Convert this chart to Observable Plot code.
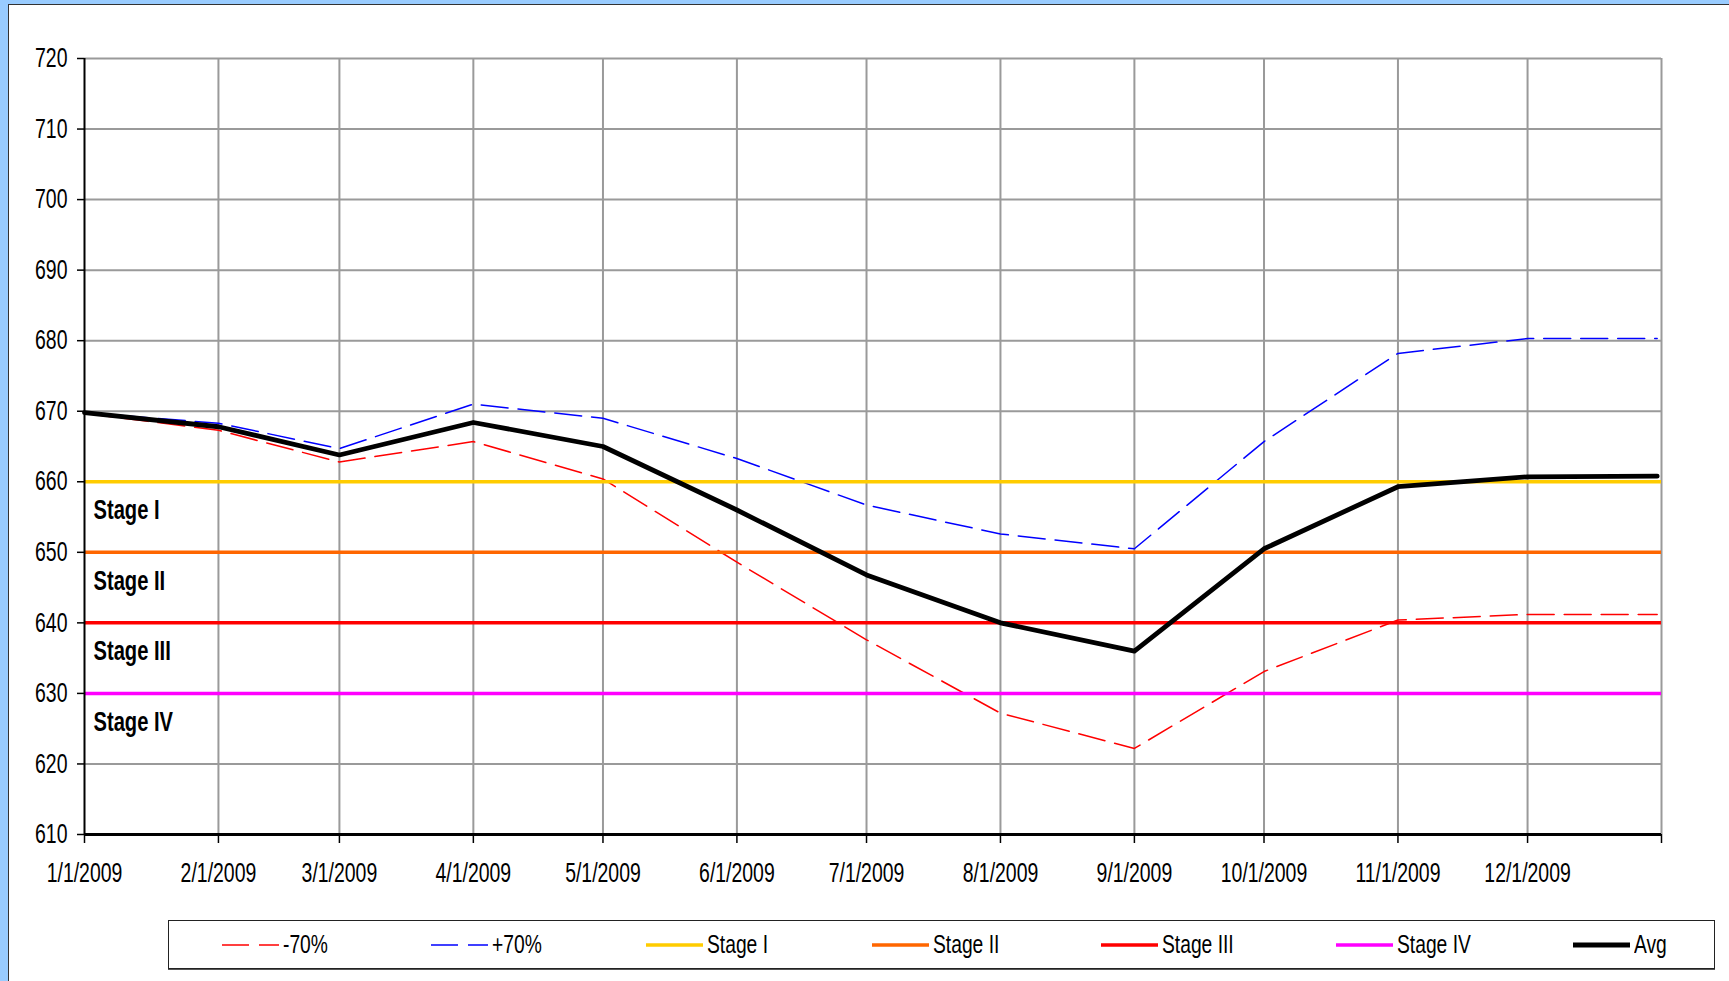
<!DOCTYPE html>
<html>
<head>
<meta charset="utf-8">
<script src="https://cdn.jsdelivr.net/npm/d3@7"></script>
<script src="https://cdn.jsdelivr.net/npm/@observablehq/plot@0.6"></script>
<style>
  html, body { margin: 0; padding: 0; }
  body { width: 1729px; height: 981px; background: #99CCFF; position: relative; overflow: hidden;
         font-family: "Liberation Sans", Arial, sans-serif; }
  #frame { position: absolute; left: 8px; top: 4px; right: -4px; bottom: -4px; background: #fff;
           border-left: 1.5px solid #333; border-top: 1.5px solid #333; }
  #chart { position: absolute; left: 0; top: 0; }
  #legend { position: absolute; left: 168px; top: 920px; width: 1545px; height: 47px;
            border: 1.5px solid #222; box-shadow: 0 1px 0 #555; background: #fff; }
  .item { position: absolute; top: 0; height: 47px; display: flex; align-items: center;
          font-size: 26px; color: #000; white-space: nowrap; }
  .item svg { display: block; margin-right: 4px; }
  .item span { display: inline-block; transform: scaleX(0.74); transform-origin: left center; }
</style>
</head>
<body>
<div id="frame"></div>
<div id="chart"></div>
<div id="legend"></div>
<script>
// ---- data ----
const dates = ["2009-01-01","2009-02-01","2009-03-01","2009-04-01","2009-05-01","2009-06-01",
               "2009-07-01","2009-08-01","2009-09-01","2009-10-01","2009-11-01","2009-12-01","2009-12-31"];
const avg     = [669.8, 667.8, 663.8, 668.4, 665.0, 656.0, 646.8, 640.0, 636.0, 650.5, 659.3, 660.7, 660.8];
const minus70 = [669.7, 667.3, 662.8, 665.7, 660.4, 648.6, 637.6, 627.2, 622.2, 633.1, 640.4, 641.2, 641.2];
const plus70  = [669.8, 668.3, 664.7, 671.0, 669.0, 663.3, 656.7, 652.6, 650.5, 665.7, 678.2, 680.3, 680.3];
const stageNames  = ["Stage I", "Stage II", "Stage III", "Stage IV"];
const stageLevels = [660, 650, 640, 630];
const yTicks = [610, 620, 630, 640, 650, 660, 670, 680, 690, 700, 710, 720];
const xTickDates = ["2009-01-01","2009-02-01","2009-03-01","2009-04-01","2009-05-01","2009-06-01",
                    "2009-07-01","2009-08-01","2009-09-01","2009-10-01","2009-11-01","2009-12-01","2010-01-01"];
const xTickLabels = ["1/1/2009","2/1/2009","3/1/2009","4/1/2009","5/1/2009","6/1/2009",
                     "7/1/2009","8/1/2009","9/1/2009","10/1/2009","11/1/2009","12/1/2009",""];
const legendNames = ["-70%", "+70%", "Stage I", "Stage II", "Stage III", "Stage IV", "Avg"];

// ---- styles ----
const stageColors = ["#FFCC00", "#FF6600", "#FF0000", "#FF00FF"];
const legendLeft = [53, 262, 477, 703, 932, 1167, 1404];
const legendStyle = [
  {stroke: "#FF0000", w: 1.5, dash: "27,10"},
  {stroke: "#0000FF", w: 1.5, dash: "27,10"},
  {stroke: stageColors[0], w: 3.5},
  {stroke: stageColors[1], w: 3.5},
  {stroke: stageColors[2], w: 3.5},
  {stroke: stageColors[3], w: 3.5},
  {stroke: "#000000", w: 5}
];
const font = '"Liberation Sans", Arial, sans-serif';

const parse = s => new Date(s + "T00:00:00Z");
const rows = dates.map((d, i) => ({date: parse(d), avg: avg[i], lo: minus70[i], hi: plus70[i]}));
const tickDates = xTickDates.map(parse);
const labelOf = new Map(tickDates.map((d, i) => [d.getTime(), xTickLabels[i]]));
const x0 = tickDates[0];

const chart = Plot.plot({
  width: 1729,
  height: 900,
  marginLeft: 84,
  marginRight: 68,
  marginTop: 58,
  marginBottom: 66,
  style: {fontFamily: font, fontSize: "27px", background: "transparent", overflow: "visible", color: "#000"},
  x: {type: "utc", domain: [tickDates[0], tickDates[tickDates.length - 1]]},
  y: {domain: [610, 720]},
  marks: [
    Plot.ruleX(tickDates.slice(1), {stroke: "#9a9a9a", strokeWidth: 2, strokeOpacity: 1}),
    Plot.ruleY(yTicks.slice(1), {stroke: "#9a9a9a", strokeWidth: 2, strokeOpacity: 1}),
    Plot.line(rows, {x: "date", y: "lo", stroke: "#FF0000", strokeWidth: 1.5, strokeDasharray: "27,10"}),
    Plot.line(rows, {x: "date", y: "hi", stroke: "#0000FF", strokeWidth: 1.5, strokeDasharray: "27,10"}),
    ...stageLevels.map((v, i) => Plot.ruleY([v], {stroke: stageColors[i], strokeWidth: 3.5})),
    Plot.line(rows, {x: "date", y: "avg", stroke: "#000", strokeWidth: 4.8, strokeLinejoin: "round"}),
    Plot.text(stageNames, {x: () => x0, y: (d, i) => stageLevels[i] - 4.0, text: d => d,
      textAnchor: "start", dx: 9, fontWeight: "bold", fontSize: 28, fill: "#000"}),
    Plot.ruleX([x0], {stroke: "#000", strokeWidth: 2}),
    Plot.ruleY([610], {stroke: "#000", strokeWidth: 3}),
    Plot.axisY({ticks: yTicks, tickSize: 7, tickPadding: 10, tickFormat: d => String(d),
      fontSize: 27, stroke: "#000", strokeWidth: 1.5, label: null}),
    Plot.axisX({ticks: tickDates, tickSize: 9, tickPadding: 19, tickFormat: d => labelOf.get(d.getTime()) ?? "",
      fontSize: 27, stroke: "#000", strokeWidth: 1.5, label: null})
  ]
});
document.getElementById("chart").append(chart);

// compress text horizontally (around each label's anchor) to mimic the narrow lettering of the original
function squeeze(svg, sx) {
  const box = svg.getBoundingClientRect();
  const ns = "http://www.w3.org/2000/svg";
  Array.from(svg.querySelectorAll("text")).forEach(t => {
    const r = t.getBoundingClientRect();
    if (!r.width) return;
    const anchor = getComputedStyle(t).textAnchor;
    let ax = r.left - box.left + (anchor === "middle" ? r.width / 2 : anchor === "end" ? r.width : 0);
    const ctm = t.parentNode.getCTM();
    if (ctm) ax -= ctm.e;
    const g = document.createElementNS(ns, "g");
    g.setAttribute("transform", `translate(${ax},0) scale(${sx},1) translate(${-ax},0)`);
    t.parentNode.insertBefore(g, t);
    g.appendChild(t);
  });
}
squeeze(chart, 0.72);

// ---- legend ----
const legend = document.getElementById("legend");
legendNames.forEach((name, i) => {
  const st = legendStyle[i];
  const item = document.createElement("div");
  item.className = "item";
  item.style.left = legendLeft[i] + "px";
  const svg = d3.create("svg").attr("width", 57).attr("height", 10);
  svg.append("line").attr("x1", 0).attr("x2", 57).attr("y1", 5).attr("y2", 5)
    .attr("stroke", st.stroke).attr("stroke-width", st.w)
    .attr("stroke-dasharray", st.dash || null);
  item.append(svg.node());
  const span = document.createElement("span");
  span.textContent = name;
  item.append(span);
  legend.append(item);
});
</script>
</body>
</html>
